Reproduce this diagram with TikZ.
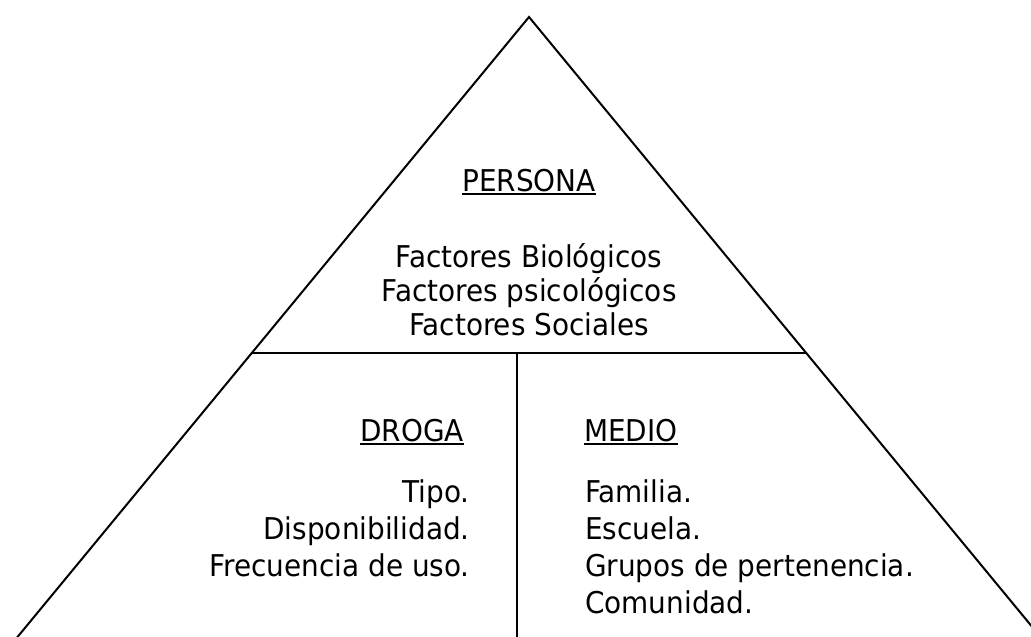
\documentclass[tikz,border=0pt]{standalone}
\usepackage{fontspec}
\setmainfont{DejaVu Sans}[FakeStretch=0.93]
\usepackage{tikz}

\begin{document}
\begin{tikzpicture}[x=1pt,y=-1pt]
\tikzstyle{trait}=[line width=2pt,black]
\tikzstyle{souligne}=[line width=2.4pt,black]
\tikzset{texte/.style={inner sep=0pt,font=\fontsize{30}{37}\selectfont,align=#1},
texte/.default={center}}
\useasboundingbox (0,0) rectangle (1031,637);
\clip (0,0) rectangle (1031,637);

\coordinate (S) at (529,17);
\coordinate (G) at (-1.5,660);
\coordinate (D) at (1059.5,660);
\coordinate (H1) at (252,353);
\coordinate (H2) at (806,353);
\coordinate (V1) at (517,353);
\coordinate (V2) at (517,660);

\draw[trait] (G) -- (S) -- (D);
\draw[trait] (H1) -- (H2);
\draw[trait] (V1) -- (V2);

\node[texte,anchor=base] (P) at (529,191) {PERSONA};
\node[texte,font=\fontsize{30}{34}\selectfont,anchor=base] (P1) at (529,335) {Factores Biológicos\\Factores psicológicos\\Factores Sociales};
\draw[souligne] ([yshift=-3pt]P.base west) -- ([yshift=-3pt]P.base east);

\node[texte,anchor=base east] (A) at (464,441) {DROGA};
\node[texte=right,anchor=base east] (A1) at (470,576) {Tipo.\\Disponibilidad.\\Frecuencia de uso.};
\draw[souligne] ([yshift=-3pt]A.base west) -- ([yshift=-3pt]A.base east);

\node[texte,anchor=base west] (B) at (584,441) {MEDIO};
\node[texte=left,anchor=base west] (B1) at (585,613) {Familia.\\Escuela.\\Grupos de pertenencia.\\Comunidad.};
\draw[souligne] ([yshift=-3pt]B.base west) -- ([yshift=-3pt]B.base east);
\end{tikzpicture}
\end{document}
